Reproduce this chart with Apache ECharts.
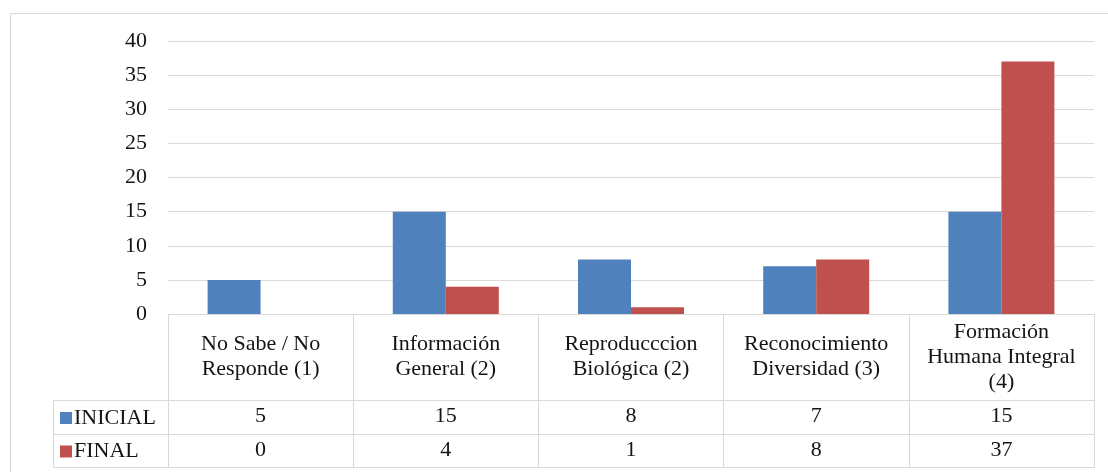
<!DOCTYPE html>
<html>
<head>
<meta charset="utf-8">
<script src="https://cdn.jsdelivr.net/npm/echarts@6/dist/echarts.min.js"></script>
<style>
html,body{margin:0;padding:0;background:#fff;}
#chart{width:1108px;height:472px;}
</style>
</head>
<body>
<div id="chart"></div>
<script>
const categories = [
  'No Sabe / No\nResponde (1)',
  'Información\nGeneral (2)',
  'Reproducccion\nBiológica (2)',
  'Reconocimiento\nDiversidad (3)',
  'Formación\nHumana Integral\n(4)'
];
const seriesNames = ['INICIAL', 'FINAL'];
const inicial = [5, 15, 8, 7, 15];
const finalVals = [0, 4, 1, 8, 37];
const yMin = 0, yMax = 40, yStep = 5;

const FONT = "Liberation Serif, Times New Roman, serif";
const TXT = '#141414';
const LINE = '#d9d9d9';
const FS = 22;

const chart = echarts.init(document.getElementById('chart'));
chart.setOption({
  animation: false,
  backgroundColor: '#fff',
  color: ['#4F81BD', '#C0504D'],
  grid: { left: 168, right: 14, top: 41, bottom: 158, containLabel: false },
  legend: {
    data: seriesNames,
    orient: 'vertical',
    left: 55,
    top: 402,
    itemWidth: 12,
    itemHeight: 12,
    itemGap: 11.5,
    icon: 'rect',
    selectedMode: false,
    textStyle: { fontFamily: FONT, fontSize: FS, color: TXT, lineHeight: 22, padding: [0, 0, 0, -3] }
  },
  xAxis: [
    {
      type: 'category',
      data: categories,
      position: 'bottom',
      axisLine: { show: true, lineStyle: { color: LINE, width: 1 } },
      axisTick: { show: true, length: 153, lineStyle: { color: LINE, width: 1 } },
      axisLabel: {
        interval: 0, margin: 43, verticalAlign: 'middle',
        fontFamily: FONT, fontSize: FS, color: TXT, lineHeight: 25, align: 'center'
      }
    },
    {
      type: 'category',
      data: categories,
      position: 'bottom',
      offset: 86,
      axisLine: { show: true, lineStyle: { color: LINE, width: 1 } },
      axisTick: { show: false },
      axisLabel: {
        interval: 0, margin: 16, verticalAlign: 'middle',
        fontFamily: FONT, fontSize: FS, color: TXT,
        formatter: (v, i) => String(inicial[i])
      }
    },
    {
      type: 'category',
      data: categories,
      position: 'bottom',
      offset: 120,
      axisLine: { show: true, lineStyle: { color: LINE, width: 1 } },
      axisTick: { show: false },
      axisLabel: {
        interval: 0, margin: 16, verticalAlign: 'middle',
        fontFamily: FONT, fontSize: FS, color: TXT,
        formatter: (v, i) => String(finalVals[i])
      }
    }
  ],
  yAxis: {
    type: 'value',
    min: yMin, max: yMax, interval: yStep,
    axisLine: { show: false },
    axisTick: { show: false },
    splitLine: { show: true, lineStyle: { color: LINE, width: 1 } },
    axisLabel: { margin: 21, fontFamily: FONT, fontSize: FS, color: TXT }
  },
  series: [
    { name: seriesNames[0], type: 'bar', data: inicial, barWidth: 53, barGap: '0%', xAxisIndex: 0 },
    { name: seriesNames[1], type: 'bar', data: finalVals, barWidth: 53, barGap: '0%', xAxisIndex: 0 }
  ],
  graphic: [
    { type: 'rect', silent: true, z: -1, shape: { x: 10.5, y: 13.5, width: 1200, height: 600 },
      style: { fill: 'none', stroke: LINE, lineWidth: 1 } },
    { type: 'polyline', silent: true, shape: { points: [[168, 400.5], [53.5, 400.5], [53.5, 467.5], [1094.5, 467.5]] },
      style: { fill: 'none', stroke: LINE, lineWidth: 1 } },
    { type: 'line', silent: true, shape: { x1: 53.5, y1: 434.5, x2: 168, y2: 434.5 },
      style: { stroke: LINE, lineWidth: 1 } }
  ]
});
</script>
</body>
</html>
